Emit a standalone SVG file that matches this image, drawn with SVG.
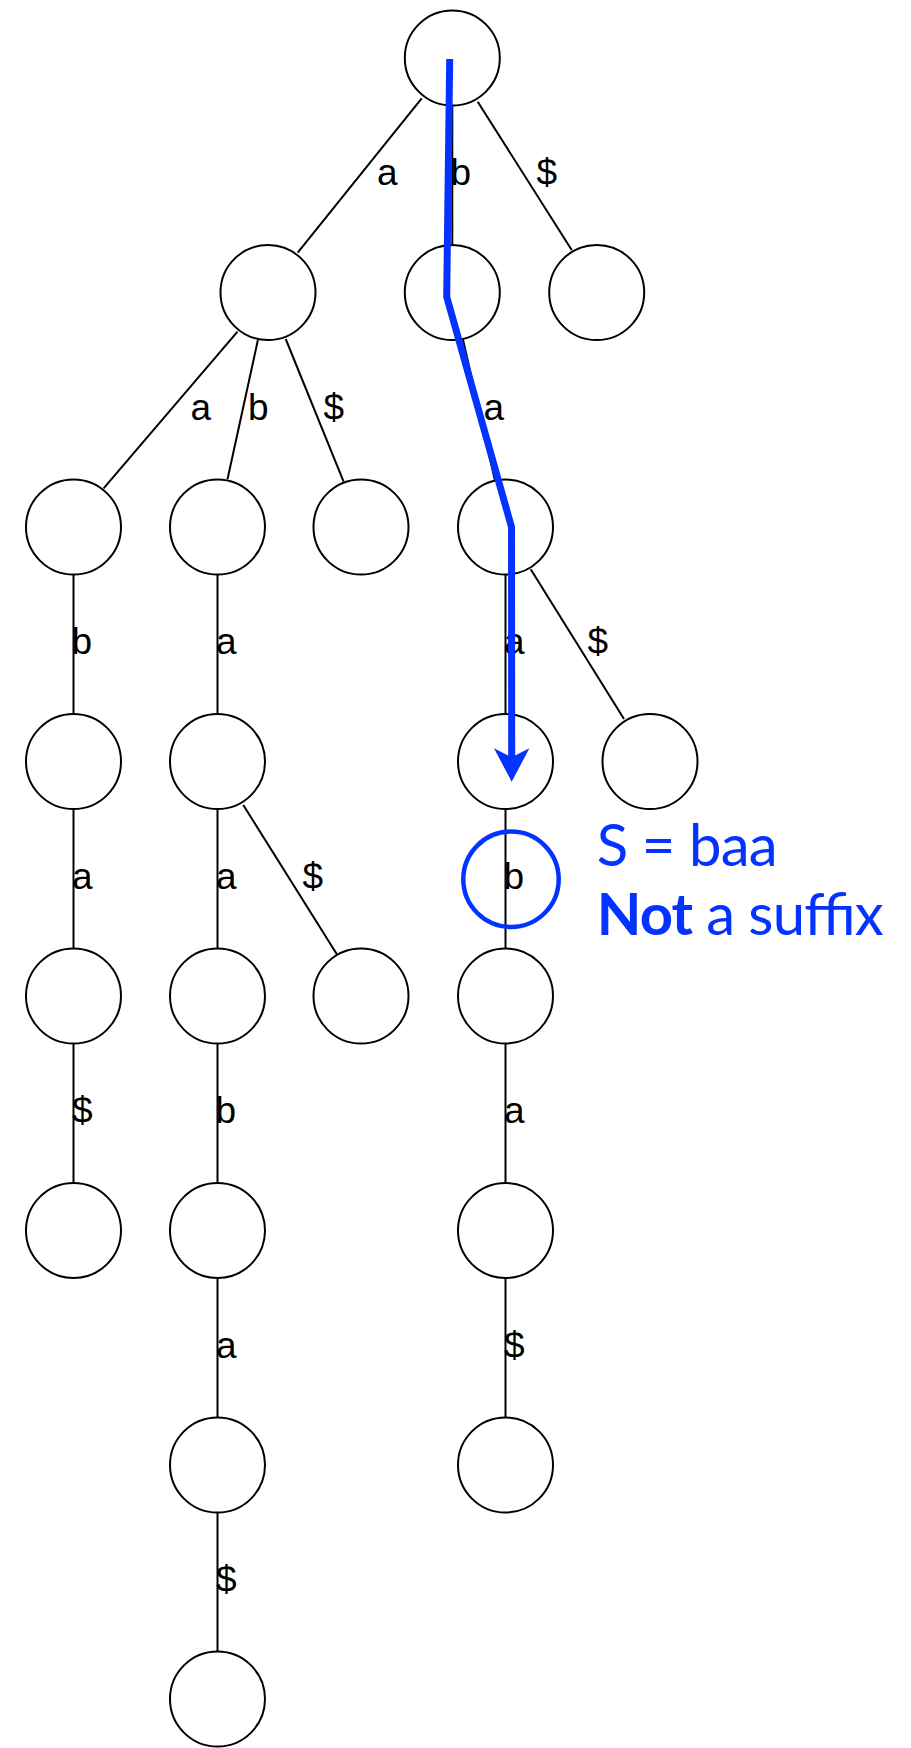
<svg xmlns="http://www.w3.org/2000/svg" width="911" height="1748" viewBox="0 0 911 1748">
  <style>
    .node { fill: #ffffff; stroke: #000000; stroke-width: 2; }
    .edge { stroke: #000000; stroke-width: 2; fill: none; }
    .lbl { font-family: "Liberation Sans", Arial, Helvetica, sans-serif; font-size: 37px; fill: #000000; }
    .path { stroke: #0433ff; stroke-width: 7; fill: none; stroke-linejoin: miter; }
    .note { font-family: Lato, "Open Sans", "Noto Sans", sans-serif; font-size: 58px; fill: #0433ff; }
  </style>
  <defs>
    <marker id="arrowBlue" markerUnits="userSpaceOnUse" markerWidth="40" markerHeight="40" refX="17.7" refY="17.7" orient="auto" overflow="visible">
      <path d="M0,0 L33.4,17.7 L0,35.4 L9,17.7 Z" fill="#0433ff"/>
    </marker>
  </defs>

  <rect width="911" height="1748" fill="#ffffff"/>

  <!-- trie edges with their symbols -->
  <g id="connectors">
    <line class="edge" x1="421.7" y1="98.3" x2="297.7" y2="252.7"/>
    <line class="edge" x1="452.3" y1="106" x2="452.3" y2="245"/>
    <line class="edge" x1="477.7" y1="101.7" x2="571.7" y2="250"/>
    <line class="edge" x1="237.5" y1="331.7" x2="103.6" y2="488.3"/>
    <line class="edge" x1="257.9" y1="340" x2="227.5" y2="479.3"/>
    <line class="edge" x1="285.7" y1="339" x2="343.6" y2="481.7"/>
    <line class="edge" x1="462.8" y1="338.8" x2="495" y2="480.7"/>
    <line class="edge" x1="73.5" y1="574.5" x2="73.5" y2="714"/>
    <line class="edge" x1="217.5" y1="574.5" x2="217.5" y2="714"/>
    <line class="edge" x1="505.5" y1="574.5" x2="505.5" y2="714"/>
    <line class="edge" x1="530.7" y1="569.3" x2="624" y2="719"/>
    <line class="edge" x1="73.5" y1="809" x2="73.5" y2="948.5"/>
    <line class="edge" x1="217.5" y1="809" x2="217.5" y2="948.5"/>
    <line class="edge" x1="243.3" y1="805" x2="336.7" y2="954"/>
    <line class="edge" x1="505.5" y1="809" x2="505.5" y2="948.5"/>
    <line class="edge" x1="73.5" y1="1043.5" x2="73.5" y2="1183"/>
    <line class="edge" x1="217.5" y1="1043.5" x2="217.5" y2="1183"/>
    <line class="edge" x1="505.5" y1="1043.5" x2="505.5" y2="1183"/>
    <line class="edge" x1="217.5" y1="1278" x2="217.5" y2="1417.5"/>
    <line class="edge" x1="505.5" y1="1278" x2="505.5" y2="1417.5"/>
    <line class="edge" x1="217.5" y1="1512.5" x2="217.5" y2="1652"/>

    <text class="lbl" x="377" y="185">a</text>
    <text class="lbl" x="450.5" y="185">b</text>
    <text class="lbl" x="536.5" y="185">$</text>
    <text class="lbl" x="190.5" y="420">a</text>
    <text class="lbl" x="248" y="420">b</text>
    <text class="lbl" x="323.5" y="420">$</text>
    <text class="lbl" x="483.5" y="420">a</text>
    <text class="lbl" x="71.5" y="654">b</text>
    <text class="lbl" x="216" y="654">a</text>
    <text class="lbl" x="504" y="654">a</text>
    <text class="lbl" x="587.5" y="654">$</text>
    <text class="lbl" x="72" y="889">a</text>
    <text class="lbl" x="216" y="889">a</text>
    <text class="lbl" x="302.5" y="889">$</text>
    <text class="lbl" x="503.5" y="889">b</text>
    <text class="lbl" x="72" y="1123">$</text>
    <text class="lbl" x="215.5" y="1123">b</text>
    <text class="lbl" x="504" y="1123">a</text>
    <text class="lbl" x="216" y="1358">a</text>
    <text class="lbl" x="504" y="1358">$</text>
    <text class="lbl" x="216" y="1592">$</text>
  </g>

  <!-- trie nodes -->
  <g id="n-root"><circle class="node" cx="452.3" cy="58" r="47.5"/></g>
  <g id="n-a"><circle class="node" cx="268" cy="292.5" r="47.5"/></g>
  <g id="n-b"><circle class="node" cx="452.3" cy="292.5" r="47.5"/></g>
  <g id="n-end"><circle class="node" cx="596.7" cy="292.5" r="47.5"/></g>
  <g id="n-aa"><circle class="node" cx="73.5" cy="527" r="47.5"/></g>
  <g id="n-ab"><circle class="node" cx="217.5" cy="527" r="47.5"/></g>
  <g id="n-a-end"><circle class="node" cx="361" cy="527" r="47.5"/></g>
  <g id="n-ba"><circle class="node" cx="505.5" cy="527" r="47.5"/></g>
  <g id="n-aab"><circle class="node" cx="73.5" cy="761.5" r="47.5"/></g>
  <g id="n-aba"><circle class="node" cx="217.5" cy="761.5" r="47.5"/></g>
  <g id="n-baa"><circle class="node" cx="505.5" cy="761.5" r="47.5"/></g>
  <g id="n-ba-end"><circle class="node" cx="650" cy="761.5" r="47.5"/></g>
  <g id="n-aaba"><circle class="node" cx="73.5" cy="996" r="47.5"/></g>
  <g id="n-abaa"><circle class="node" cx="217.5" cy="996" r="47.5"/></g>
  <g id="n-aba-end"><circle class="node" cx="361" cy="996" r="47.5"/></g>
  <g id="n-baab"><circle class="node" cx="505.5" cy="996" r="47.5"/></g>
  <g id="n-aaba-end"><circle class="node" cx="73.5" cy="1230.5" r="47.5"/></g>
  <g id="n-abaab"><circle class="node" cx="217.5" cy="1230.5" r="47.5"/></g>
  <g id="n-baaba"><circle class="node" cx="505.5" cy="1230.5" r="47.5"/></g>
  <g id="n-abaaba"><circle class="node" cx="217.5" cy="1465" r="47.5"/></g>
  <g id="n-baaba-end"><circle class="node" cx="505.5" cy="1465" r="47.5"/></g>
  <g id="n-abaaba-end"><circle class="node" cx="217.5" cy="1699" r="47.5"/></g>

  <!-- search walk for S = baa -->
  <g id="search-path">
    <path class="path" d="M449.7,59 L446.7,296.7 L511.5,527 L511.7,766" marker-end="url(#arrowBlue)"/>
    <circle cx="511" cy="879.3" r="47.7" fill="none" stroke="#0433ff" stroke-width="4.5"/>
  </g>

  <g id="search-note">
    <text class="note" x="596.7" y="866" textLength="181" lengthAdjust="spacing">S = baa</text>
    <text class="note" x="596.7" y="935" textLength="287" lengthAdjust="spacing"><tspan font-weight="bold">Not</tspan> a suffix</text>
  </g>
</svg>
